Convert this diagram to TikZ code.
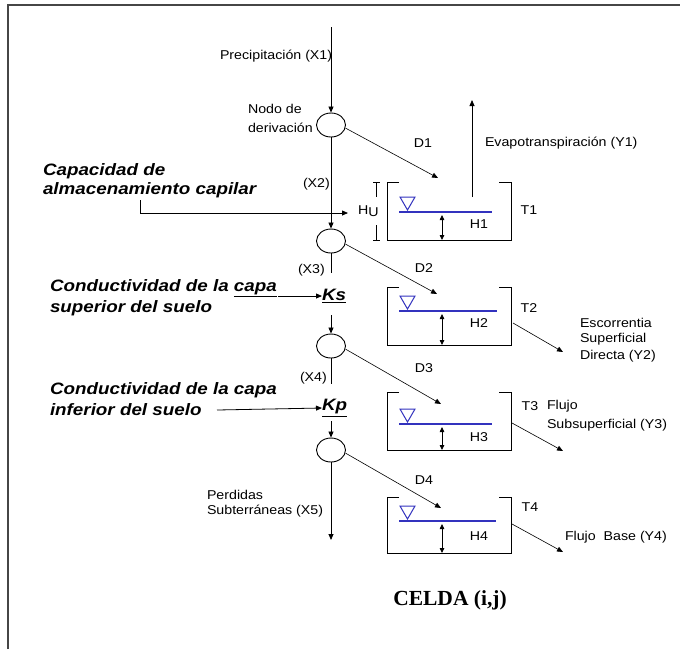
\documentclass[tikz,border=0pt]{standalone}
\usepackage{fontspec}
\setmainfont{Liberation Sans}
\newfontfamily\serifbf{Liberation Serif}
\usetikzlibrary{arrows.meta,shapes.geometric}
\newcommand\sml{\fontsize{12.8}{16}\selectfont}
\newcommand\sx[1]{\scalebox{1.11}[1]{\sml #1}}
\newcommand\bgf{\fontsize{16.5}{20}\selectfont\bfseries\itshape}
\newcommand\bx[1]{\scalebox{1.14}[1]{\bgf #1}}
\definecolor{water}{RGB}{50,50,190}
\definecolor{frame}{RGB}{70,70,70}
\begin{document}
\begin{tikzpicture}[x=1pt,y=-1pt,
  txt/.style={inner sep=0pt,outer sep=0pt},
  arr/.style={-{Triangle[length=6pt,width=5pt]},line width=0.8pt},
  darr/.style={{Triangle[length=5pt,width=4.5pt]}-{Triangle[length=5pt,width=4.5pt]},line width=0.8pt},
  ell/.style={ellipse,draw,line width=0.9pt,minimum width=29pt,minimum height=24pt,inner sep=0pt},
  thin/.style={line width=0.7pt}]
\useasboundingbox (0,0) rectangle (680,649);
\fill[white] (0,0) rectangle (680,649);
\draw[line width=2pt,frame] (8,649) -- (8,5) -- (680,5);

% nodes of the main column
\node[ell] (n1) at (331,125) {};
\node[ell] (n2) at (331,241) {};
\node[ell] (n3) at (331,346) {};
\node[ell] (n4) at (331,450) {};
\node[txt,anchor=west] (ks) at (322,296) {\bx{\underline{Ks}}};
\node[txt,anchor=west] (kp) at (322,408) {\bx{\underline{Kp}}};

\coordinate (top) at (331,27);
\coordinate (k1a) at (331,273);
\coordinate (k1b) at (331,315);
\coordinate (k2a) at (331,384);
\coordinate (k2b) at (331,421);
\coordinate (bot) at (331,540);

\draw[arr] (top) -- (n1.north);
\draw[arr] (n1.south) -- (n2.north);
\draw[line width=0.8pt] (n2.south) -- (k1a);
\draw[arr] (k1b) -- (n3.north);
\draw[line width=0.8pt] (n3.south) -- (k2a);
\draw[arr] (k2b) -- (n4.north);
\draw[arr] (n4.south) -- (bot);

% labels along main column
\node[txt,anchor=west] (prec) at (220,56) {\sx{Precipitación (X1)}};
\node[txt,anchor=west] (nodo1) at (248,109) {\sx{Nodo de}};
\node[txt,anchor=west] (nodo2) at (248,128) {\sx{derivación}};
\node[txt,anchor=west] (x2) at (303,184) {\sx{(X2)}};
\node[txt,anchor=west] (x3) at (298,270) {\sx{(X3)}};
\node[txt,anchor=west] (x4) at (300,378) {\sx{(X4)}};
\node[txt,anchor=west] (perd1) at (207,495) {\sx{Perdidas}};
\node[txt,anchor=west] (perd2) at (207,511) {\sx{Subterráneas (X5)}};

% left bold labels
\node[txt,anchor=west] (cap1) at (43,171) {\bx{Capacidad de}};
\node[txt,anchor=west] (cap2) at (43,190) {\bx{almacenamiento capilar}};
\node[txt,anchor=west] (cs1) at (50,288) {\bx{Conductividad de la \underline{capa}}};
\node[txt,anchor=west] (cs2) at (50,308) {\bx{superior del suelo}};
\node[txt,anchor=west] (ci1) at (50,390) {\bx{Conductividad de la capa}};
\node[txt,anchor=west] (ci2) at (50,410) {\bx{inferior del suelo}};

% HU bracket
\node[txt,anchor=west] (hu) at (358,211) {\sx{H\raisebox{-1.5pt}{U}}};
\coordinate (capA) at (140,200);
\coordinate (capB) at (140,213);
\coordinate (capC) at (348,213);
\draw[arr] (capA) -- (capB) -- (capC);
\coordinate (ksA) at (278,296);
\draw[arr] (ksA) -- (ks.west);
\coordinate (kpA) at (217,410);
\draw[arr] (kpA) -- (kp.west);
\draw[thin] (373,182) -- (380,182) (376,182) -- (376,197);
\draw[thin] (376,225) -- (376,240) (373,240) -- (380,240);

% tanks
\foreach \t/\b/\w/\e in {182/240/212/492, 287/345/311/497, 392/450/424/492, 497/553/521/496}{
  \draw[line width=1pt] (399,\t) -- (387,\t) -- (387,\b) -- (511,\b) -- (511,\t) -- (499,\t);
  \draw[water,line width=1.1pt] (399,\w) -- (\e,\w);
  \draw[water,line width=1pt] (400,\w-15) -- (415,\w-15) -- (407.5,\w-2) -- cycle;
  \draw[darr] (442,\w+3) -- (442,\b);
}

% tank labels
\node[txt] (h1) at (479,224) {\sx{H1}};
\node[txt] (h2) at (479,323) {\sx{H2}};
\node[txt] (h3) at (479,437) {\sx{H3}};
\node[txt] (h4) at (479,536) {\sx{H4}};
\node[txt] (t1) at (529,210) {\sx{T1}};
\node[txt] (t2) at (529,308) {\sx{T2}};
\node[txt] (t3) at (530,406) {\sx{T3}};
\node[txt] (t4) at (530,507) {\sx{T4}};
\node[txt] (d1) at (423,143) {\sx{D1}};
\node[txt] (d2) at (424,268) {\sx{D2}};
\node[txt] (d3) at (424,368) {\sx{D3}};
\node[txt] (d4) at (424,480) {\sx{D4}};

% derivation arrows
\coordinate (d1t) at (438,178);
\coordinate (d2t) at (437,294);
\coordinate (d3t) at (441,404);
\coordinate (d4t) at (441,508);
\draw[arr,line width=0.6pt] (n1.-12) -- (d1t);
\draw[arr,line width=0.6pt] (n2.-12) -- (d2t);
\draw[arr,line width=0.6pt] (n3.-12) -- (d3t);
\draw[arr,line width=0.6pt] (n4.-12) -- (d4t);

% evapotranspiration
\coordinate (ev0) at (472,197);
\coordinate (ev1) at (472,100);
\draw[arr] (ev0) -- (ev1);
\node[txt,anchor=west] (evap) at (485,143) {\sx{Evapotranspiración (Y1)}};

% outflows
\coordinate (o2a) at (513,323); \coordinate (o2b) at (563,352);
\coordinate (o3a) at (512,423); \coordinate (o3b) at (563,451);
\coordinate (o4a) at (512,524); \coordinate (o4b) at (563,552);
\draw[arr,line width=0.6pt] (o2a) -- (o2b);
\draw[arr,line width=0.6pt] (o3a) -- (o3b);
\draw[arr,line width=0.6pt] (o4a) -- (o4b);
\node[txt,anchor=west] (y2a) at (580,323) {\sx{Escorrentia}};
\node[txt,anchor=west] (y2b) at (580,339) {\sx{Superficial}};
\node[txt,anchor=west] (y2c) at (580,356) {\sx{Directa (Y2)}};
\node[txt,anchor=west] (y3a) at (547,406) {\sx{Flujo}};
\node[txt,anchor=west] (y3b) at (547,425) {\sx{Subsuperficial (Y3)}};
\node[txt,anchor=west] (y4) at (565,537) {\sx{Flujo \ Base (Y4)}};

% title
\node[txt] (celda) at (450,600) {\serifbf\bfseries\fontsize{21.5}{24}\selectfont CELDA (i,j)};
\end{tikzpicture}
\end{document}
